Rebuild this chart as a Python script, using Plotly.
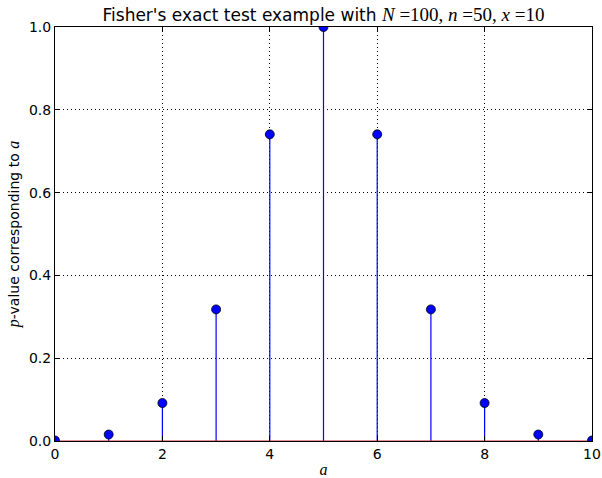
import plotly.graph_objects as go

a_vals = [0, 1, 2, 3, 4, 5, 6, 7, 8, 9, 10]
p_vals = [0.0012, 0.0157, 0.0917, 0.3179, 0.7407, 1.0, 0.7407, 0.3179, 0.0917, 0.0157, 0.0012]
x_ticks = [0, 2, 4, 6, 8, 10]
y_ticks = [0.0, 0.2, 0.4, 0.6, 0.8, 1.0]

SERIF = "'Liberation Serif'"
def M(s, size=None):
    sz = f";font-size:{size}px" if size else ""
    return f'<span style="font-family:{SERIF};font-style:italic{sz}">{s}</span>'
def R(s, size=None):
    sz = f";font-size:{size}px" if size else ""
    return f'<span style="font-family:{SERIF}{sz}">{s}</span>'

def eq(var, val):
    return M(var, 19) + R(" =" + val, 19)

title_text = ("Fisher's exact test example with " + eq("N", "100") + R(", ", 19)
              + eq("n", "50") + R(", ", 19) + eq("x", "10"))

stem_x, stem_y = [], []
for a, p in zip(a_vals, p_vals):
    stem_x += [a, a, None]
    stem_y += [0, p, None]

fig = go.Figure()
fig.add_trace(go.Scatter(x=stem_x, y=stem_y, mode="lines",
                         line=dict(color="#0000ff", width=1.2), hoverinfo="skip"))
fig.add_trace(go.Scatter(x=[a_vals[0], a_vals[-1]], y=[0, 0], mode="lines",
                         line=dict(color="#cc2222", width=1)))
fig.add_trace(go.Scatter(x=a_vals, y=p_vals, mode="markers", cliponaxis=True,
                         marker=dict(color="#0000ff", size=9,
                                     line=dict(color="black", width=0.8))))

axis_common = dict(showline=True, linecolor="black", linewidth=1, mirror="ticks",
                   ticks="inside", ticklen=5, tickcolor="black", automargin=False,
                   showgrid=True, gridcolor="black", gridwidth=0.8, griddash="1px,3px",
                   zeroline=False, tickfont=dict(family="DejaVu Sans", size=14, color="black"))

fig.update_layout(
    width=602, height=478,
    margin=dict(l=55, r=10, t=27, b=37),
    paper_bgcolor="white", plot_bgcolor="white",
    showlegend=False,
    title=dict(text=title_text,
               x=(323.5 / 602), xanchor="center", y=1 - 15 / 478, yanchor="middle",
               font=dict(family="DejaVu Sans", size=17, color="black")),
    xaxis=dict(range=[0, 10], tickvals=x_ticks, ticktext=[str(t) for t in x_ticks],
               title=dict(text=M("a", 16), font=dict(size=14, color="black"), standoff=8),
               **axis_common),
    yaxis=dict(range=[0, 1], tickvals=y_ticks, ticktext=[f"{t:.1f}" for t in y_ticks],
               title=dict(text=M("p", 16) + "-value corresponding to " + M("a", 16),
                          font=dict(family="DejaVu Sans", size=14, color="black"), standoff=6),
               **axis_common),
)

fig.write_html("out.html")
